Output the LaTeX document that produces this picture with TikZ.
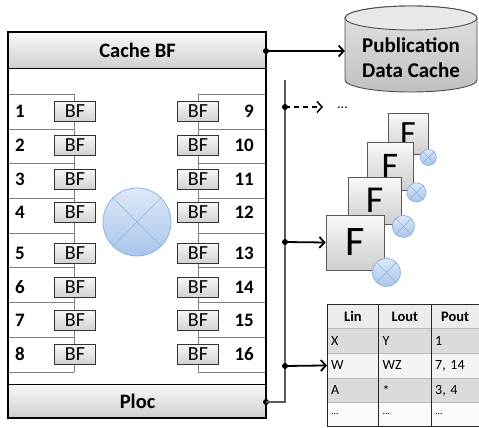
\documentclass[tikz,border=0pt]{standalone}
\usepackage{fontspec}
\setmainfont{Carlito}
\usetikzlibrary{arrows.meta,calc}
\definecolor{xfill}{HTML}{C6D9F1}
\definecolor{xfilldk}{HTML}{A9C4EB}
\definecolor{xedge}{HTML}{8EB4E3}
\begin{document}
\begin{tikzpicture}[x=1pt,y=-1pt,
  hdr/.style={draw=black, line width=1.2pt, top color=gray!5, bottom color=gray!38, minimum width=258pt, inner sep=0pt, font=\fontsize{20.5}{24}\selectfont\bfseries},
  bfbox/.style={draw=black!80, line width=0.8pt, top color=gray!6, bottom color=gray!35, minimum width=41pt, minimum height=20pt, inner sep=0pt, font=\fontsize{20}{20}\selectfont},
  num/.style={font=\fontsize{19}{20}\selectfont\bfseries, inner sep=0pt},
  rowline/.style={draw=black!50, line width=0.9pt},
  xcirc/.style={circle, draw=xedge, line width=0.8pt, top color=xfill!60!white, bottom color=xfilldk, inner sep=0pt},
  xline/.style={draw=xedge, line width=0.7pt},
  fbox/.style={draw=black!65, line width=0.8pt, top color=gray!5, bottom color=gray!38, inner sep=0pt},
  dotnode/.style={circle, fill=black, inner sep=0pt, minimum size=6pt},
  arr/.style={draw=black, line width=1.8pt, -{Straight Barb[length=5pt,width=11pt]}},
  bus/.style={draw=black!65, line width=2.6pt},
  tcell/.style={anchor=north west, inner xsep=4pt, inner ysep=0pt, minimum height=24.5pt, font=\fontsize{14}{14}\selectfont, align=left},
  thead/.style={tcell, font=\fontsize{14.5}{14.5}\selectfont\bfseries, align=center},
]
\useasboundingbox (0,0) rectangle (479,428);

% ---------- main box ----------
\node[fill=white, minimum width=258pt, minimum height=386pt, inner sep=0pt, anchor=north west] (main) at (8,32) {};

% row lines and vertical connectors
\foreach \y in {94,129,163.5,198,233,267.5,302.5,337,372} {
  \draw[rowline] (8,\y) -- (74,\y);
  \draw[rowline] (198,\y) -- (266,\y);
}
\coordinate (lvtop) at (74,94);
\coordinate (lvbot) at (74,372);
\coordinate (rvtop) at (198,94);
\coordinate (rvbot) at (198,372);
\draw[rowline] (lvtop) -- (lvbot);
\draw[rowline] (rvtop) -- (rvbot);

% BF boxes and numbers
\foreach \i/\j/\y in {1/9/111,2/10/145,3/11/179,4/12/212,5/13/253,6/14/287,7/15/320,8/16/354} {
  \node[bfbox] (L\i) at (75,\y) {BF};
  \node[bfbox] (R\j) at (198,\y) {BF};
  \node[num, anchor=west] (nl\i) at (15,\y) {\i};
  \node[num, anchor=east] (nr\j) at (254,\y) {\j};
}

% central circle
\node[xcirc, minimum size=68pt] (mix) at (137,222) {};
\draw[xline] (mix.north west) -- (mix.south east);
\draw[xline] (mix.north east) -- (mix.south west);

% headers
\node[hdr, minimum height=36pt, anchor=north west] (cache) at (8,32) {Cache BF};
\node[hdr, minimum height=33pt, anchor=south west] (ploc) at (8,418) {Ploc};
\draw[black, line width=2pt] (main.north west) rectangle (main.south east);

% ---------- cylinder ----------
\path[draw=black!70, line width=0.9pt, top color=gray!22, bottom color=gray!50]
  (345,18) -- (345,80) arc[start angle=180, end angle=360, x radius=66pt, y radius=12pt]
  -- (477,18) arc[start angle=0, end angle=180, x radius=66pt, y radius=12pt] -- cycle;
\path[draw=black!70, line width=0.9pt, fill=gray!18] (411,18) ellipse[x radius=66pt, y radius=12pt];
\node[minimum width=132pt, minimum height=60pt, inner sep=0pt, align=center,
      font=\fontsize{21}{25}\selectfont\bfseries] (pdc) at (411,58) {Publication\\Data Cache};

% ---------- dots and bus ----------
\node[dotnode] (cdot) at (266,51) {};
\node[dotnode] (pdot) at (266,402) {};
\coordinate (bustop) at (285,80);
\coordinate (buscorner) at (285,402);
\draw[bus] (pdot.center) -- (buscorner) -- (bustop);
\node[dotnode] (d1) at (285,107) {};
\node[dotnode] (d2) at (285,242) {};
\node[dotnode] (d3) at (285,366) {};

\draw[arr] (cdot.center) -- (cdot -| pdc.west);

% dashed arrow to dots
\coordinate (dashend) at (323,107);
\draw[arr, line width=1.5pt, dash pattern=on 5pt off 4pt] (d1.center) -- (dashend);
\node[font=\fontsize{14}{14}\selectfont, anchor=west, inner sep=0pt] (more) at (337,107.5) {...};

% ---------- stacked F boxes ----------
\node[fbox, minimum width=40pt, minimum height=41pt, font=\fontsize{34}{34}\selectfont] (f4) at (408,133.5) {F};
\node[xcirc, minimum size=16pt] (s4) at ($(f4.south east)+(0,3)$) {};
\draw[xline] (s4.north west) -- (s4.south east);
\draw[xline] (s4.north east) -- (s4.south west);

\node[fbox, minimum width=46pt, minimum height=48pt, font=\fontsize{36}{36}\selectfont] (f3) at (390,166) {F};
\node[xcirc, minimum size=19pt] (s3) at ($(f3.south east)+(3,2)$) {};
\draw[xline] (s3.north west) -- (s3.south east);
\draw[xline] (s3.north east) -- (s3.south west);

\node[fbox, minimum width=53pt, minimum height=47pt, font=\fontsize{38}{38}\selectfont] (f2) at (374.5,200.5) {F};
\node[xcirc, minimum size=22pt] (s2) at ($(f2.south east)+(2,2)$) {};
\draw[xline] (s2.north west) -- (s2.south east);
\draw[xline] (s2.north east) -- (s2.south west);

\node[fbox, minimum width=58pt, minimum height=55pt, font=\fontsize{42}{42}\selectfont] (f1) at (355,242.5) {F};
\node[xcirc, minimum size=28pt] (s1) at ($(f1.south east)+(2,2)$) {};
\draw[xline] (s1.north west) -- (s1.south east);
\draw[xline] (s1.north east) -- (s1.south west);

\draw[arr] (d2.center) -- (f1.west);

% ---------- table ----------
\node[thead, fill=gray!15, minimum width=51.5pt, text width=43.5pt] (t11) at (327,304) {Lin};
\node[thead, fill=gray!15, minimum width=52.5pt, text width=44.5pt] (t12) at (378.5,304) {Lout};
\node[thead, fill=gray!15, minimum width=48pt, text width=40pt] (t13) at (431,304) {Pout};

\node[tcell, fill=gray!28, minimum width=51.5pt, text width=43.5pt] (t21) at (327,328.5) {X};
\node[tcell, fill=gray!28, minimum width=52.5pt, text width=44.5pt] (t22) at (378.5,328.5) {Y};
\node[tcell, fill=gray!28, minimum width=48pt, text width=40pt] (t23) at (431,328.5) {1};

\node[tcell, fill=gray!9, minimum width=51.5pt, text width=43.5pt] (t31) at (327,353) {W};
\node[tcell, fill=gray!9, minimum width=52.5pt, text width=44.5pt] (t32) at (378.5,353) {WZ};
\node[tcell, fill=gray!9, minimum width=48pt, text width=40pt] (t33) at (431,353) {7, 14};

\node[tcell, fill=gray!28, minimum width=51.5pt, text width=43.5pt] (t41) at (327,378) {A};
\node[tcell, fill=gray!28, minimum width=52.5pt, text width=44.5pt] (t42) at (378.5,378) {*};
\node[tcell, fill=gray!28, minimum width=48pt, text width=40pt] (t43) at (431,378) {3, 4};

\node[tcell, fill=gray!4, minimum width=51.5pt, text width=43.5pt, minimum height=23.5pt, font=\fontsize{10}{10}\selectfont] (t51) at (327,402.5) {...};
\node[tcell, fill=gray!4, minimum width=52.5pt, text width=44.5pt, minimum height=23.5pt, font=\fontsize{10}{10}\selectfont] (t52) at (378.5,402.5) {...};
\node[tcell, fill=gray!4, minimum width=48pt, text width=40pt, minimum height=23.5pt, font=\fontsize{10}{10}\selectfont] (t53) at (431,402.5) {...};

\foreach \r in {2,3,4,5} \draw[gray!55, line width=0.6pt] (t\r1.north west) -- (t\r3.north east);
\draw[black!85, line width=0.8pt] (t12.north west) -- (t52.south west);
\draw[black!85, line width=0.8pt] (t13.north west) -- (t53.south west);
\draw[black!85, line width=0.9pt] (t11.north west) rectangle (t53.south east);

\draw[arr] (d3.center) -- (t31.west);
\end{tikzpicture}
\end{document}
